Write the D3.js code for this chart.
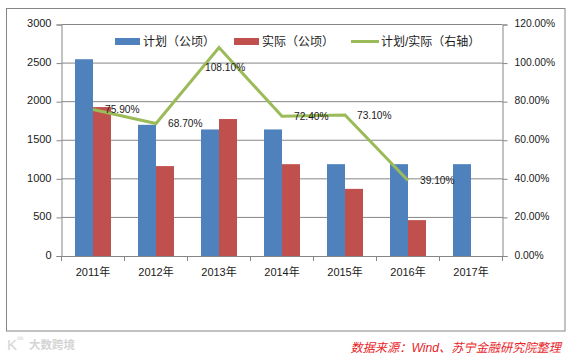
<!DOCTYPE html>
<html>
<head>
<meta charset="utf-8">
<script src="https://cdnjs.cloudflare.com/ajax/libs/d3/7.8.5/d3.min.js"></script>
<style>
  html, body { margin: 0; padding: 0; background: #fff; }
  svg { display: block; }
  text { font-family: "Liberation Sans", "Noto Sans CJK SC", sans-serif; fill: #1a1a1a; }
</style>
</head>
<body>
<svg></svg>
<script>
const YEARS = ['2011年', '2012年', '2013年', '2014年', '2015年', '2016年', '2017年'];
const PLAN = [2550, 1700, 1640, 1640, 1190, 1190, 1190];
const ACTUAL = [1930, 1165, 1775, 1190, 870, 465, null];
const RATIO = [75.9, 68.7, 108.1, 72.4, 73.1, 39.1, null];
const LEFT_TICKS = [0, 500, 1000, 1500, 2000, 2500, 3000];
const RIGHT_TICKS = [0, 20, 40, 60, 80, 100, 120];
const LABEL_NAMES = ['计划（公顷）', '实际（公顷）', '计划/实际（右轴）'];

const WIDTH = 573, HEIGHT = 355;
const PLOT = { left: 61.5, right: 502.5, top: 24.5, bottom: 256 };
const GREY = '#868686', BLUE = '#4f81bd', RED = '#c0504d', GREEN = '#9bbb59';

const svg = d3.select('svg').attr('width', WIDTH).attr('height', HEIGHT);

// outer chart frame
svg.append('rect')
    .attr('x', 6.5).attr('y', 8.5)
    .attr('width', 558.5).attr('height', 322.5)
    .attr('fill', '#fff')
    .attr('stroke', GREY)
    .attr('stroke-width', 1);

const x = d3.scaleBand().domain(YEARS).range([PLOT.left, PLOT.right]).paddingInner(0.4286).paddingOuter(0.2143);
const xStep = d3.scaleBand().domain(YEARS).range([PLOT.left, PLOT.right]);
const y = d3.scaleLinear().domain([0, 3000]).range([PLOT.bottom, PLOT.top]);
const yPct = d3.scaleLinear().domain([0, 120]).range([PLOT.bottom, PLOT.top]);

// GRIDLINES
svg.append('g').selectAll('line')
    .data(LEFT_TICKS.slice(1))
    .join('line')
    .attr('x1', PLOT.left).attr('x2', PLOT.right)
    .attr('y1', d => y(d)).attr('y2', d => y(d))
    .attr('stroke', GREY);

// BARS
const barW = x.bandwidth() / 2;
svg.append('g').selectAll('rect')
    .data(PLAN)
    .join('rect')
    .attr('x', (d, i) => x(YEARS[i]))
    .attr('y', d => y(d))
    .attr('width', barW)
    .attr('height', d => PLOT.bottom - y(d))
    .attr('fill', BLUE);

svg.append('g').selectAll('rect')
    .data(ACTUAL)
    .join('rect')
    .filter(d => d !== null)
    .attr('x', (d, i) => x(YEARS[i]) + barW)
    .attr('y', d => y(d))
    .attr('width', barW)
    .attr('height', d => PLOT.bottom - y(d))
    .attr('fill', RED);

// AXES
function styleAxis(g, size) {
    g.attr('font-family', null);
    g.select('.domain').attr('stroke', GREY);
    g.selectAll('.tick line').attr('stroke', GREY);
    g.selectAll('.tick text').attr('font-size', size).attr('fill', '#1a1a1a');
}

svg.append('g')
    .attr('transform', `translate(${PLOT.left}, 0)`)
    .call(d3.axisLeft(y).tickValues(LEFT_TICKS).tickSize(5).tickPadding(5).tickFormat(d3.format('d')))
    .call(styleAxis, 11)
    .call(g => g.selectAll('.tick text').attr('dy', '0.2em'));

svg.append('g')
    .attr('transform', `translate(${PLOT.right}, 0)`)
    .call(d3.axisRight(yPct).tickValues(RIGHT_TICKS).tickSize(5).tickPadding(7).tickFormat(d => d.toFixed(2) + '%'))
    .call(styleAxis, 10.3)
    .call(g => g.selectAll('.tick text').attr('dy', '0.22em'));

// category axis: ticks sit between the bands, labels under the centres
svg.append('g')
    .attr('transform', `translate(0, ${PLOT.bottom})`)
    .call(d3.axisBottom(xStep).tickSize(0).tickPadding(12))
    .call(styleAxis, 11)
    .call(g => g.selectAll('.sep')
        .data(d3.range(YEARS.length + 1))
        .join('line')
        .attr('class', 'sep')
        .attr('x1', i => PLOT.left + i * xStep.step())
        .attr('x2', i => PLOT.left + i * xStep.step())
        .attr('y1', 0).attr('y2', 5)
        .attr('stroke', GREY));

// RATIO LINE
const mid = name => xStep(name) + xStep.bandwidth() / 2;
const line = d3.line()
    .defined(d => d !== null)
    .x((d, i) => mid(YEARS[i]))
    .y(d => yPct(d));

svg.append('path')
    .datum(RATIO)
    .attr('d', line)
    .attr('fill', 'none')
    .attr('stroke', GREEN)
    .attr('stroke-width', 3)
    .attr('stroke-linejoin', 'miter');

// DATA LABELS (offsets picked to sit where the original was hand-placed)
const LABEL_DX = [12, 12, -14, 12, 12, 12];
const LABEL_DY = [3.5, 3.5, 23.5, 3.5, 4, 3.5];
svg.append('g').selectAll('text')
    .data(RATIO.filter(d => d !== null))
    .join('text')
    .attr('x', (d, i) => mid(YEARS[i]) + LABEL_DX[i])
    .attr('y', (d, i) => yPct(d) + LABEL_DY[i])
    .attr('font-size', 10.2)
    .text(d => d.toFixed(2) + '%');

// LEGEND
const legend = svg.append('g');
legend.append('rect').attr('x', 115).attr('y', 38).attr('width', 25).attr('height', 7).attr('fill', BLUE);
legend.append('rect').attr('x', 234).attr('y', 38).attr('width', 25).attr('height', 7).attr('fill', RED);
legend.append('line').attr('x1', 351).attr('x2', 379).attr('y1', 41.5).attr('y2', 41.5)
    .attr('stroke', GREEN).attr('stroke-width', 3);
legend.selectAll('text')
    .data(LABEL_NAMES)
    .join('text')
    .attr('x', (d, i) => [143, 262, 381][i])
    .attr('y', 46)
    .attr('font-size', 12)
    .text(d => d);

// SOURCE NOTE + WATERMARK
svg.append('text')
    .attr('x', 350.5).attr('y', 352)
    .attr('font-size', 12.2)
    .attr('font-style', 'italic')
    .style('fill', '#e8262a')
    .text('数据来源：Wind、苏宁金融研究院整理');

svg.append('text')
    .attr('x', 7).attr('y', 350)
    .attr('font-size', 15)
    .style('fill', '#d4d4d4')
    .text('K');
svg.append('text')
    .attr('x', 17).attr('y', 341)
    .attr('font-size', 9)
    .style('fill', '#d4d4d4')
    .text('∞');
svg.append('text')
    .attr('x', 29).attr('y', 348.5)
    .attr('font-size', 11.5)
    .attr('font-weight', 'bold')
    .style('fill', '#d4d4d4')
    .text('大数跨境');
</script>
</body>
</html>
